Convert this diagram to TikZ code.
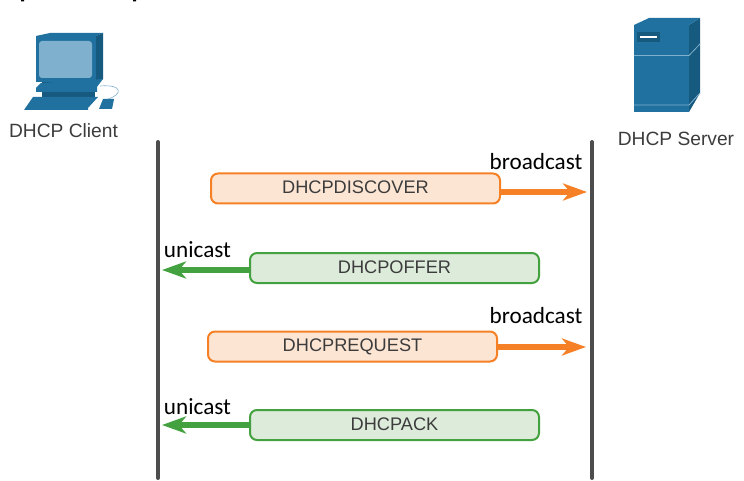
\documentclass[tikz,border=0pt]{standalone}
\usepackage{fontspec}
\setmainfont{Liberation Sans}
\newfontfamily\labelfont{Carlito}
\usetikzlibrary{positioning}
\usetikzlibrary{arrows.meta}
\definecolor{ORANGE}{HTML}{F58025}
\definecolor{ORANGE_F}{HTML}{FDE5D4}
\definecolor{GREEN}{HTML}{43A23F}
\definecolor{GREEN_F}{HTML}{DCEBDA}
\definecolor{BLUE}{HTML}{20719F}
\definecolor{BLUE_D}{HTML}{175A80}
\definecolor{BLUE_L}{HTML}{7FB0CE}
\definecolor{LINE}{HTML}{4D4D4D}
\definecolor{TEXTC}{HTML}{3C3C3C}
\tikzset{
	every node/.style = {inner sep=0pt, outer sep=0pt},
	device/.style = {font=\fontsize{19.2}{22}\selectfont, text=TEXTC},
	msg/.style = {rounded corners=7pt, line width=2pt, minimum width=289pt, minimum height=30pt, text depth=2pt, font=\fontsize{18.2}{22}\selectfont, text=TEXTC},
	msgo/.style = {msg, draw=ORANGE, fill=ORANGE_F},
	msgg/.style = {msg, draw=GREEN, fill=GREEN_F},
	cast/.style = {font=\labelfont\fontsize{23.2}{26}\selectfont, text=black},
	life/.style = {LINE, line width=4pt, line cap=round},
	arr/.style = {line width=5.2pt, -{Stealth[length=24pt, width=17pt, inset=7pt]}}
}
\begin{document}
\begin{tikzpicture}[x=1pt, y=-1pt]
	\useasboundingbox (0,0) rectangle (744,481);
	% cut off marks along the top edge
	\fill[black] (21,0) rectangle (24,1.5) (133,0) rectangle (136,1.5);
	% client
	\fill[BLUE] (36,36) -- (50,33) -- (103,33) -- (96,36) -- (96,82) -- (36,82) -- cycle;
	\fill[BLUE_D] (96,36) -- (103,33) -- (103,79) -- (96,82) -- cycle;
	\fill[BLUE_L, rounded corners=3pt] (39,41) rectangle (92,78);
	\fill[BLUE_D] (42,82) rectangle (95,97);
	\fill[BLUE] (36,88) -- (41,83) -- (103,79) -- (97,87) -- (97,92) -- (36,92) -- cycle;
	\fill[BLUE] (24,110) -- (33,97) -- (98,97) -- (88,108) -- (88,110) -- cycle;
	\fill[BLUE] (99,109) -- (103,99) -- (114,99) -- (112,109) -- cycle;
	\draw[BLUE_L, line width=.6pt] (100,86) .. controls (124,84) and (122,95) .. (108,99);
	\node[device] (client) at (63.5,131) {DHCP Client};
	% server
	\fill[BLUE_D] (689,25) -- (700,18) -- (700,93) -- (689,112) -- cycle;
	\fill[BLUE] (634,25) -- (649,18) -- (700,18) -- (689,25) -- cycle;
	\fill[BLUE] (634,25) rectangle (689,112);
	\fill[BLUE_D] (637,32) rectangle (660,42);
	\draw[white, line width=1.4pt] (640,37) -- (657,37);
	\draw[BLUE_L, line width=.8pt] (634,55.5) -- (689,55.5) -- (700,44);
	\draw[BLUE_L, line width=.8pt] (634,105) -- (689,105) -- (700,93);
	\node[device] (server) at (676,139) {DHCP Server};
	% time lines
	\coordinate (c_top) at (158,142);
	\coordinate (c_bot) at (158,478);
	\coordinate (s_top) at (592,142);
	\coordinate (s_bot) at (592,478);
	\draw[life] (c_top) -- (c_bot);
	\draw[life] (s_top) -- (s_bot);
	% messages
	\node[msgo, anchor=west] (discover) at (211,188.5) {DHCPDISCOVER};
	\node[msgg, anchor=west] (offer) at (250,268) {DHCPOFFER};
	\node[msgo, anchor=west] (request) at (208,346.5) {DHCPREQUEST};
	\node[msgg, anchor=west] (ack) at (250,425) {DHCPACK};
	% arrows
	\coordinate (a1) at (587,192);
	\coordinate (a2) at (162,270);
	\coordinate (a3) at (586,347);
	\coordinate (a4) at (162,425);
	\draw[arr, ORANGE] (discover.east |- a1) -- (a1);
	\draw[arr, GREEN] (offer.west |- a2) -- (a2);
	\draw[arr, ORANGE] (request.east |- a3) -- (a3);
	\draw[arr, GREEN] (ack.west |- a4) -- (a4);
	% labels
	\node[cast] (b1) at (536,162) {broadcast};
	\node[cast] (u1) at (197.5,250) {unicast};
	\node[cast] (b2) at (536,316) {broadcast};
	\node[cast] (u2) at (197.5,407) {unicast};
\end{tikzpicture}
\end{document}
